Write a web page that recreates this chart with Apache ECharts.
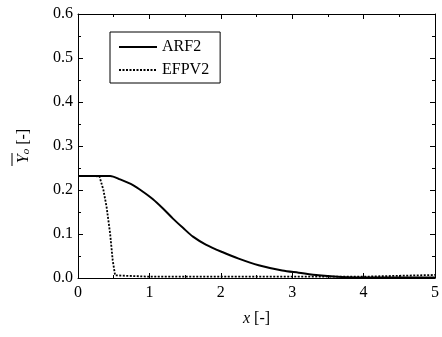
<!DOCTYPE html>
<html><head><meta charset="utf-8">
<script src="https://cdn.jsdelivr.net/npm/echarts@6/dist/echarts.min.js"></script>
<style>html,body{margin:0;padding:0;background:#fff}#c{width:442px;height:337px}</style>
</head><body><div id="c"></div>
<script>
const arf2X = [0, 0.2, 0.45, 0.59, 0.77, 0.91, 1.05, 1.19, 1.33, 1.47, 1.61, 1.79, 2.02, 2.25, 2.53, 2.86, 3.09, 3.37, 3.69, 4.0, 4.5, 5.0];
const arf2Y = [0.232, 0.232, 0.232, 0.224, 0.211, 0.196, 0.179, 0.158, 0.135, 0.114, 0.094, 0.076, 0.059, 0.044, 0.029, 0.017, 0.012, 0.006, 0.002, 0.001, 0.001, 0.001];
const efpvX = [0, 0.2, 0.3, 0.356, 0.40, 0.45, 0.486, 0.52, 0.54, 1.0, 2.0, 3.0, 4.0, 4.5, 5.0];
const efpvY = [0.232, 0.232, 0.231, 0.200, 0.162, 0.101, 0.040, 0.006, 0.003, 0.003, 0.003, 0.003, 0.003, 0.005, 0.007];
const xTicks = [0, 1, 2, 3, 4, 5];
const yTicks = [0.0, 0.1, 0.2, 0.3, 0.4, 0.5, 0.6];
const seriesNames = ['ARF2', 'EFPV2'];

const font = '"Liberation Serif", "Times New Roman", serif';
const zip = (xs, ys) => xs.map((x, i) => [x, ys[i]]);
const chart = echarts.init(document.getElementById('c'), null, {renderer: 'canvas'});
const axisCommon = {
  axisLine: {show: true, onZero: false, lineStyle: {color: '#000', width: 1}},
  axisTick: {show: true, inside: true, length: 5, lineStyle: {color: '#000'}},
  minorTick: {show: true, splitNumber: 2, length: 3, lineStyle: {color: '#000'}},
  splitLine: {show: false},
};
chart.setOption({
  animation: false,
  grid: {left: 78, right: 4, top: 14, bottom: 59},
  legend: {
    show: true, orient: 'vertical',
    data: seriesNames.map(n => ({name: n, itemStyle: {opacity: 0}})),
    left: 110, top: 32, padding: [7, 11, 5, 8],
    itemWidth: 38, itemHeight: 10, itemGap: 7,
    borderColor: '#000', borderWidth: 1,
    textStyle: {fontFamily: font, fontSize: 16, color: '#000'}
  },
  xAxis: [
    Object.assign({type: 'value', min: 0, max: 5, interval: 1, position: 'bottom',
      axisLabel: {fontFamily: font, fontSize: 16, color: '#000', margin: 7,
        formatter: v => xTicks.includes(v) ? String(v) : ''},
      name: '{i|x} [-]', nameLocation: 'middle', nameGap: 33,
      nameTextStyle: {fontFamily: font, fontSize: 16, color: '#000',
        rich: {i: {fontFamily: font, fontSize: 16, fontStyle: 'italic', color: '#000'}}}
    }, axisCommon),
    Object.assign({type: 'value', min: 0, max: 5, interval: 1, position: 'top',
      axisLabel: {show: false}}, axisCommon)
  ],
  yAxis: [
    Object.assign({type: 'value', min: 0, max: 0.6, interval: 0.1, position: 'left',
      axisLabel: {fontFamily: font, fontSize: 16, color: '#000', margin: 5,
        formatter: v => v.toFixed(1)},
      name: '{i|Y}{s|o} [-]', nameLocation: 'middle', nameGap: 46, nameRotate: 90,
      nameTextStyle: {fontFamily: font, fontSize: 16, color: '#000',
        rich: {i: {fontFamily: font, fontSize: 16, fontStyle: 'italic', color: '#000'},
               s: {fontFamily: font, fontSize: 11, fontStyle: 'italic', color: '#000', verticalAlign: 'bottom', padding: [6, 0, 0, 0]}}}
    }, axisCommon),
    Object.assign({type: 'value', min: 0, max: 0.6, interval: 0.1, position: 'right',
      axisLabel: {show: false}}, axisCommon)
  ],
  graphic: [
    {type: 'line', shape: {x1: 12, y1: 153, x2: 12, y2: 166}, style: {stroke: '#000', lineWidth: 1}}
  ],
  series: [
    {name: seriesNames[0], type: 'line', data: zip(arf2X, arf2Y), symbol: 'none', smooth: 0.3,
     lineStyle: {color: '#000', width: 2, type: 'solid'}, itemStyle: {color: '#000'}},
    {name: seriesNames[1], type: 'line', data: zip(efpvX, efpvY), symbol: 'none',
     lineStyle: {color: '#000', width: 1.8, type: [2, 1.5]}, itemStyle: {color: '#000'}}
  ]
});
</script></body></html>
